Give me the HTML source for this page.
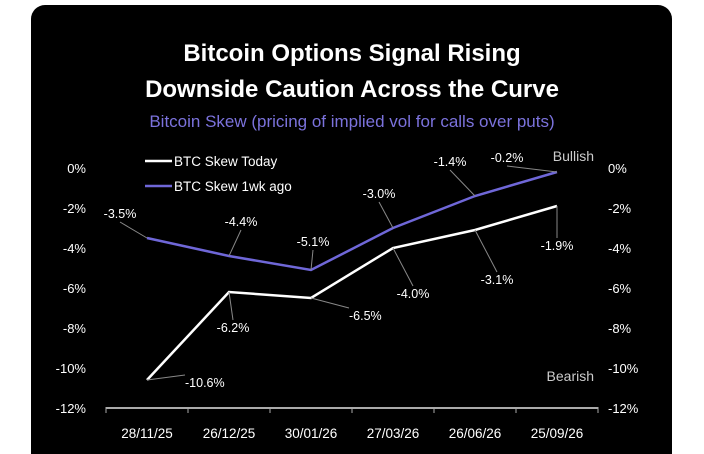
<!DOCTYPE html>
<html><head><meta charset="utf-8"><style>
html,body{margin:0;padding:0;background:#fff;width:704px;height:454px;overflow:hidden}
svg{display:block}
text{font-family:"Liberation Sans",sans-serif}
</style></head><body>
<svg width="704" height="454">
<rect x="31" y="5" width="641" height="470" rx="14" fill="#000"/>
<text x="352" y="61" text-anchor="middle" fill="#fff" font-size="24" font-weight="bold">Bitcoin Options Signal Rising</text>
<text x="352" y="97" text-anchor="middle" fill="#fff" font-size="24" font-weight="bold">Downside Caution Across the Curve</text>
<text x="352" y="127" text-anchor="middle" fill="#7b72dc" font-size="17">Bitcoin Skew (pricing of implied vol for calls over puts)</text>
<g id="g"></g>
</svg>
<script>
const categories=["28/11/25","26/12/25","30/01/26","27/03/26","26/06/26","25/09/26"];
const today=[-10.6,-6.2,-6.5,-4.0,-3.1,-1.9];
const weekAgo=[-3.5,-4.4,-5.1,-3.0,-1.4,-0.2];
const yTicks=[0,-2,-4,-6,-8,-10,-12];
const x0=106,x1=598,band=(x1-x0)/categories.length;
const xs=i=>x0+band*(i+0.5);
const ys=v=>168-v*20;
const g=document.getElementById('g');
const NS='http://www.w3.org/2000/svg';
function mk(t,a,txt){const e=document.createElementNS(NS,t);for(const k in a)e.setAttribute(k,a[k]);if(txt!==undefined)e.textContent=txt;g.appendChild(e);return e;}
yTicks.forEach(v=>{
 let e=mk('text',{x:86,y:ys(v)+5,'text-anchor':'end',fill:'#fff','font-size':13},v+'%');
 
 
 e=mk('text',{x:608,y:ys(v)+5,'text-anchor':'start',fill:'#fff','font-size':13},v+'%');
 
 
});
let ax=mk('line',{x1:x0,x2:x1,y1:ys(-12),y2:ys(-12),stroke:'#aaa','stroke-width':2});


for(let i=0;i<=categories.length;i++){
 const t=mk('line',{x1:x0+band*i,x2:x0+band*i,y1:ys(-12)-1,y2:ys(-12)+5,stroke:'#aaa','stroke-width':1});
 
 
}
categories.forEach((c,i)=>{
 const e=mk('text',{x:xs(i),y:438,'text-anchor':'middle',fill:'#fff','font-size':13.5},c);
 
 
});
function line(d,col,name){
 const p=mk('polyline',{points:d.map((v,i)=>xs(i)+','+ys(v)).join(' '),fill:'none',stroke:col,'stroke-width':2.5});
 
 
}
line(weekAgo,'#6f67d8','series-btc-skew-1wk-ago');
line(today,'#fff','series-btc-skew-today');
const wOff=[[-27,-20],[12,-30],[2,-24],[-14,-30],[-25,-30],[-50,-10]];
const tOff=[[38,7],[4,40],[38,22],[20,50],[22,54],[0,44]];
function labels(d,off,name){
 d.forEach((v,i)=>{
  const px=xs(i),py=ys(v),tx=px+off[i][0],ty=py+off[i][1];
  const l=mk('line',{x1:px,y1:py,x2:tx,y2:ty+(off[i][1]<0?4:-12),stroke:'#888','stroke-width':1});
  
  
  const t=mk('text',{x:tx,y:ty,'text-anchor':off[i][0]>25?'start':'middle',fill:'#fff','font-size':12.5},v.toFixed(1)+'%');
  
  
 });
}
labels(weekAgo,wOff,'week-ago');
labels(today,tOff,'today');
let e;
e=mk('line',{x1:145,x2:172,y1:161,y2:161,stroke:'#fff','stroke-width':2.5});


e=mk('text',{x:174,y:166,fill:'#fff','font-size':13.5},'BTC Skew Today');


e=mk('line',{x1:145,x2:172,y1:186,y2:186,stroke:'#6f67d8','stroke-width':2.5});


e=mk('text',{x:174,y:191,fill:'#fff','font-size':13.5},'BTC Skew 1wk ago');


e=mk('text',{x:594,y:161,'text-anchor':'end',fill:'#ccc','font-size':14},'Bullish');


e=mk('text',{x:594,y:381,'text-anchor':'end',fill:'#ccc','font-size':14},'Bearish');


</script>
</body></html>
